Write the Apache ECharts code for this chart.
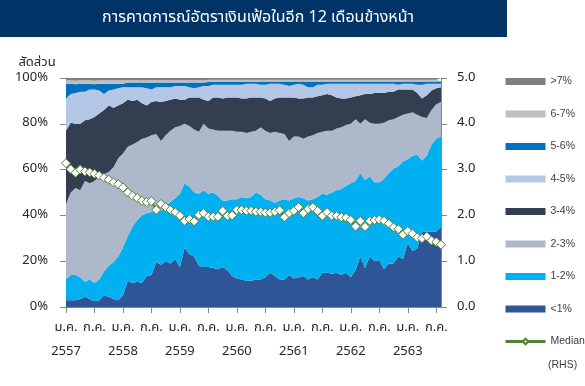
<!DOCTYPE html>
<html>
<head>
<meta charset="utf-8">
<script src="https://cdn.jsdelivr.net/npm/echarts@6/dist/echarts.min.js"></script>
<style>
html,body{margin:0;padding:0;background:#fff;}
#c{width:585px;height:386px;}
</style>
</head>
<body>
<div id="c"></div>
<script>
// Month labels (Thai) and start year (B.E.)
const monthNames = ['ม.ค.','ก.พ.','มี.ค.','เม.ย.','พ.ค.','มิ.ย.','ก.ค.','ส.ค.','ก.ย.','ต.ค.','พ.ย.','ธ.ค.'];
const startYear = 2557;
const nMonths = 80;

// Shares of respondents (%) by expected inflation range
const lt1 = [3,3,3,3.5,4.5,3.5,2.5,3,5,4.5, 3.5,3,5,11.5,10.5,11,10.5,13.5,14,19.5, 18.5,20,19,21,17.5,26,23,22,18,17.5, 17.5,17,16.5,17.5,16,13.5,12.5,12,11.5,11.5, 12,12,13,15,13.5,12,12,14,12.5,13, 13.5,12,13,12,15,15,14.5,15,14,15, 13,16,22,17,22,20,20.5,16.5,19,19, 22,21,28,24.5,25.5,33,33,33,33,35];
const r1to2 = [9,11,11,9.5,6.5,8.5,8,9,10.5,13.5, 16,19,21,19.5,24.5,27,29.5,27.5,27.5,22, 23.5,24,27,26.5,32,28,29.5,28,31.5,33.5, 32,33,32,29,30.5,33.5,34.5,36,36,36.5, 38,37,34,31.5,32,34.5,35,32.5,35,35, 34,34.5,34,36,34.5,34,35.5,36,37.5,38, 41,39,36.5,38.5,35,34.5,34,39.5,39.5,41.5, 39.5,42.5,36.5,41.5,41,31,33,38,40.5,39.5];
const r2to3 = [33,36,38,38,44,42,44.5,45,42.5,41, 41.5,43,41,39,36,34,33.5,33,33.5,34, 30.5,31,31,31,29.5,26,26.5,27.5,27,29, 28.5,27.5,28.5,30.5,30.5,30,29.5,28.5,28.5,28.5, 27,29.5,30,29.5,31,29.5,28.5,26,27,26.5, 26,28,28,28,27,28,27,27,27,26.5, 26,27,21.5,26.5,23.5,25.5,25.5,24.5,23,21.5, 21.5,20.5,20,19,17.5,19,16.5,15,15,15];
const r3to4 = [32,30.5,28,29,26.5,28,28,27.5,28,29, 26,23,22,20.5,19,18.5,15.5,14,14.5,14.5, 17,15,13.5,12.5,11.5,10.5,12.5,14,15,10.5, 12,14,14.5,14,14.5,14.5,15,14.5,15,15, 14.5,13,14,14,14.5,15.5,16,19,17,16.5, 17.5,17,16.5,16,16,16,15.5,13.5,12.5,11.5, 11.5,10,12.5,11,12.5,13.5,13.5,13,12.5,12, 12,11,10.5,10,9.5,8,10,8.5,7,6.5];
const r4to5 = [14,12.5,13.5,14,12.5,13,12,10,7,6.5, 8,7.5,7,5.5,6,5.5,7,7.5,5.5,6, 6.5,6,5.5,5.5,6,6,4.5,4,4.5,6, 6.5,5.5,5.5,6,5.5,5.5,5.5,6,6.5,6, 6,5.5,6,7.5,6.5,6,5.5,5,5.5,6.5, 6,4.5,4.5,5,4.5,4.5,5,6,6.5,6.5, 6,5.5,5,4.5,4.5,4,4,4,3.5,3.5, 2,2.5,2.5,2.5,3.5,6,5,3,2,1.5];
const r5to6 = [6.5,4.5,3.8,3.5,3.5,2.5,2.3,3,4.5,3, 2.5,2,1.5,2,2,2,2,2.5,3,2, 2,2,2,1.5,1.5,1.5,2,2.5,2,1.5, 1.7,1.2,1.2,1.2,1.2,1.2,1.2,1.2,0.7,0.7, 0.7,1.5,1.5,1,1,1,1.5,2,1.5,1, 1.5,2.5,2.5,1.5,1.5,1,1,1,1,1, 1,1,1,1,1,1,1,1,1,1, 1.5,1,1,1,1.5,1.5,1,1,1,1];
const r6to7 = [1.5,1.5,1.5,1.5,1.5,1.5,1.5,1.5,1.5,1.5, 1.5,1.5,1.5,1,1,1,1,1,1,1, 1,1,1,1,1,1,1,1,1,1, 1,1,1,1,1,1,1,1,1,1, 1,0.7,0.7,0.7,0.7,0.7,0.7,0.7,0.7,0.7, 0.7,0.7,0.7,0.7,0.7,0.7,0.7,0.7,0.7,0.7, 0.7,0.7,0.7,0.7,0.7,0.7,0.7,0.7,0.7,0.7, 0.7,0.7,0.7,0.7,0.7,0.7,0.7,0.7,0.7,0.7];
const gt7 = [1,1,1.2,1,1,1,1.2,1,1,1, 1,1,1,1,1,1,1,1,1,1, 1,1,1,1,1,1,1,1,1,1, 0.8,0.8,0.8,0.8,0.8,0.8,0.8,0.8,0.8,0.8, 0.8,0.8,0.8,0.8,0.8,0.8,0.8,0.8,0.8,0.8, 0.8,0.8,0.8,0.8,0.8,0.8,0.8,0.8,0.8,0.8, 0.8,0.8,0.8,0.8,0.8,0.8,0.8,0.8,0.8,0.8, 0.8,0.8,0.8,0.8,0.8,0.8,0.8,0.8,0.8,0.8];
// Median expectation (right axis, %)
const median = [3.14,3.01,2.93,3.0,2.96,2.94,2.91,2.87,2.82,2.78, 2.72,2.68,2.61,2.5,2.43,2.38,2.32,2.29,2.31,2.12, 2.25,2.18,2.12,2.07,1.99,1.88,1.92,1.87,2.01,2.05, 1.97,1.97,1.97,2.10,1.99,2.0,2.12,2.12,2.10,2.10, 2.08,2.08,2.06,2.06,2.08,2.11,1.96,2.05,2.10,2.18, 2.05,2.14,2.18,2.10,1.99,2.07,1.99,1.99,1.96,1.95, 1.90,1.76,1.88,1.75,1.88,1.9,1.91,1.88,1.82,1.74, 1.70,1.58,1.66,1.6,1.52,1.50,1.54,1.45,1.42,1.36];

const seriesNames = ['<1%','1-2%','2-3%','3-4%','4-5%','5-6%','6-7%','>7%'];
const seriesData = [lt1, r1to2, r2to3, r3to4, r4to5, r5to6, r6to7, gt7];
const seriesColors = ['#2F5597','#00B0F0','#ADB9CA','#333F50','#B4C7E7','#0070C0','#BFBFBF','#7F7F7F'];
const leftTicks = [0,20,40,60,80,100];
const rightTicks = [0,1,2,3,4,5];

const categories = [];
for (let i = 0; i < nMonths; i++) {
  categories.push(monthNames[i % 12] + ' ' + (startYear + Math.floor(i / 12)));
}

const FONT = "Tahoma, 'Noto Sans Thai', 'Noto Sans', 'Liberation Sans', sans-serif";
const LFONT = "Tahoma, 'Liberation Sans', 'Noto Sans Thai', sans-serif";
const chart = echarts.init(document.getElementById('c'), null, {renderer: 'canvas'});

const series = seriesNames.map((n, k) => ({
  name: n,
  type: 'line',
  stack: 'total',
  data: seriesData[k],
  symbol: 'none',
  color: seriesColors[k],
  lineStyle: {width: 0},
  areaStyle: {color: seriesColors[k], opacity: 1},
  emphasis: {disabled: true},
  z: 2
}));
series.push({
  name: 'Median',
  type: 'line',
  yAxisIndex: 1,
  data: median,
  symbol: 'diamond',
  symbolSize: 9,
  showAllSymbol: true,
  color: '#548235',
  lineStyle: {color: '#548235', width: 2},
  itemStyle: {color: '#FFFFFF', borderColor: '#548235', borderWidth: 1},
  emphasis: {disabled: true},
  z: 5
});

const legendData = seriesNames.slice().reverse().map(n => ({name: n, icon: 'rect'}));
legendData.push({name: 'Median', lineStyle: {width: 3, color: '#548235'}});

chart.setOption({
  animation: false,
  textStyle: {fontFamily: FONT},
  grid: {left: 66, right: 144, top: 78, bottom: 79, containLabel: false},
  legend: {
    orient: 'vertical',
    left: 504,
    top: 74.5,
    padding: 0,
    itemWidth: 40,
    itemHeight: 7,
    itemGap: 18.5,
    data: legendData,
    textStyle: {color: '#404040', fontSize: 10.5, lineHeight: 14, fontFamily: LFONT},
    selectedMode: false
  },
  xAxis: {
    type: 'category',
    data: categories,
    boundaryGap: false,
    axisLine: {lineStyle: {color: '#868686', width: 1}},
    axisTick: {
      show: true, length: 6, lineStyle: {color: '#868686'},
      interval: (i) => i % 6 === 0
    },
    axisLabel: {
      interval: (i) => i % 6 === 0,
      margin: 9,
      lineHeight: 24,
      fontSize: 13,
      color: '#262626',
      fontFamily: FONT,
      formatter: (v, i) => {
        const parts = v.split(' ');
        return (i % 12 === 0) ? parts[0] + '\n' + parts[1] : parts[0];
      }
    },
    splitLine: {show: false}
  },
  yAxis: [
    {
      type: 'value', min: leftTicks[0], max: leftTicks[leftTicks.length - 1], interval: 20,
      position: 'left',
      axisLine: {show: true, lineStyle: {color: '#868686'}},
      axisTick: {show: true, length: 6, lineStyle: {color: '#868686'}},
      axisLabel: {formatter: '{value}%', fontSize: 13, color: '#262626', margin: 18, fontFamily: FONT},
      splitLine: {show: false}
    },
    {
      type: 'value', min: rightTicks[0], max: rightTicks[rightTicks.length - 1], interval: 1,
      position: 'right',
      axisLine: {show: true, lineStyle: {color: '#868686'}},
      axisTick: {show: true, length: 6, lineStyle: {color: '#868686'}},
      axisLabel: {formatter: (v) => v.toFixed(1), fontSize: 13, color: '#262626', margin: 16, fontFamily: FONT},
      splitLine: {show: false}
    }
  ],
  graphic: [
    {type: 'rect', left: 0, top: 0, shape: {width: 507, height: 37}, style: {fill: '#013466'}, silent: true},
    {type: 'text', x: 258, y: 19, style: {text: 'การคาดการณ์อัตราเงินเฟ้อในอีก 12 เดือนข้างหน้า', fill: '#FFFFFF', font: '16px ' + FONT, textAlign: 'center', textVerticalAlign: 'middle'}},
    {type: 'text', x: 37, y: 63, style: {text: 'สัดส่วน', fill: '#262626', font: '13px ' + FONT, textAlign: 'center', textVerticalAlign: 'middle'}},
    {type: 'text', x: 548, y: 365, style: {text: '(RHS)', fill: '#404040', font: '10.5px ' + LFONT, textAlign: 'left', textVerticalAlign: 'middle'}}
  ],
  series: series
});
</script>
</body>
</html>
